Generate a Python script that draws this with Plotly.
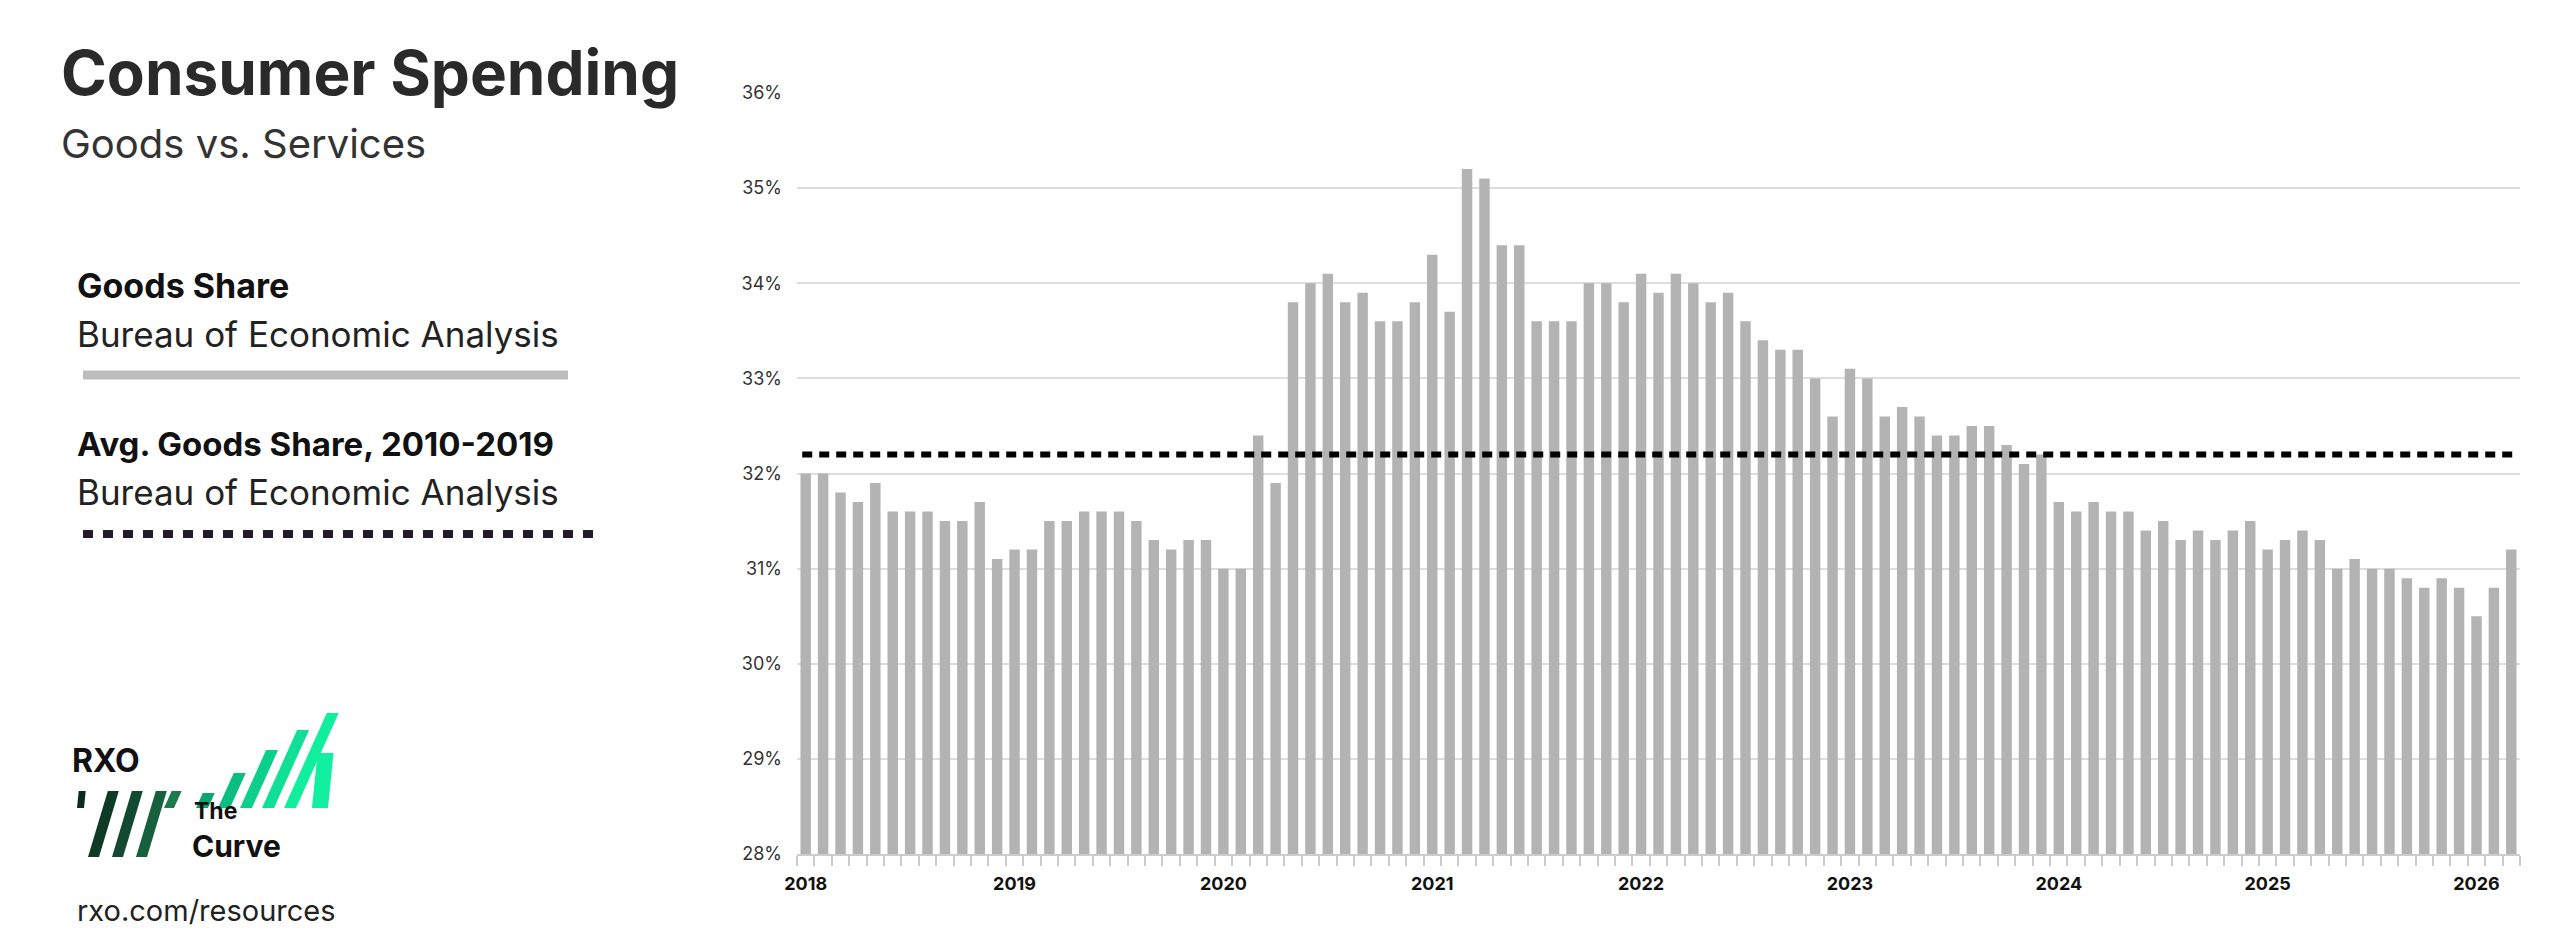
import plotly.graph_objects as go

# monthly goods share of consumer spending, Jan 2018 - Mar 2026 (%)
goods_share = [
    32.0, 32.0, 31.8, 31.7, 31.9, 31.6, 31.6, 31.6, 31.5, 31.5, 31.7, 31.1,  # 2018
    31.2, 31.2, 31.5, 31.5, 31.6, 31.6, 31.6, 31.5, 31.3, 31.2, 31.3, 31.3,  # 2019
    31.0, 31.0, 32.4, 31.9, 33.8, 34.0, 34.1, 33.8, 33.9, 33.6, 33.6, 33.8,  # 2020
    34.3, 33.7, 35.2, 35.1, 34.4, 34.4, 33.6, 33.6, 33.6, 34.0, 34.0, 33.8,  # 2021
    34.1, 33.9, 34.1, 34.0, 33.8, 33.9, 33.6, 33.4, 33.3, 33.3, 33.0, 32.6,  # 2022
    33.1, 33.0, 32.6, 32.7, 32.6, 32.4, 32.4, 32.5, 32.5, 32.3, 32.1, 32.2,  # 2023
    31.7, 31.6, 31.7, 31.6, 31.6, 31.4, 31.5, 31.3, 31.4, 31.3, 31.4, 31.5,  # 2024
    31.2, 31.3, 31.4, 31.3, 31.0, 31.1, 31.0, 31.0, 30.9, 30.8, 30.9, 30.8,  # 2025
    30.5, 30.8, 31.2,                                                        # 2026
]
avg_2010_2019 = 32.2
year_labels = ["2018", "2019", "2020", "2021", "2022", "2023", "2024", "2025", "2026"]
y_ticks = [28, 29, 30, 31, 32, 33, 34, 35, 36]

W, H = 2560, 944
L, R, T, B = 789, 2512, 85, 846

def px(x):
    return (x - L) / (R - L)

def py(y):
    return (B - y) / (B - T)

FONT = "Inter"
months = list(range(len(goods_share)))

fig = go.Figure()
fig.add_trace(go.Bar(x=months, y=goods_share, marker_color="#b3b3b3",
                     marker_line_width=0, width=0.6))
fig.add_trace(go.Scatter(x=[-0.2, len(goods_share) - 0.8], y=[avg_2010_2019] * 2,
                         mode="lines", line=dict(color="black", width=6, dash="10px,7px")))

fig.update_layout(
    width=W, height=H, showlegend=False,
    margin=dict(l=L, r=W - R, t=T, b=H - B),
    plot_bgcolor="white", paper_bgcolor="white",
    font=dict(family=FONT, color="#222"),
)
fig.update_xaxes(range=[-0.5, len(goods_share) - 0.5],
                 tickvals=[12 * i for i in range(len(year_labels))], ticktext=year_labels,
                 ticks="", showgrid=False, zeroline=False,
                 showline=True, linecolor="#cccccc", linewidth=2,
                 tickfont=dict(size=18, family=FONT, color="#111", weight="bold"),
                 ticklabelstandoff=12,
                 minor=dict(ticks="outside", tick0=-0.5, dtick=1, ticklen=10,
                            tickcolor="#cccccc", tickwidth=2, showgrid=False))
fig.update_yaxes(range=[28, 36], tickvals=y_ticks, ticktext=[f"{v}%" for v in y_ticks],
                 gridcolor="#dddddd", gridwidth=2, zeroline=False, ticks="",
                 tickfont=dict(size=18, family=FONT, color="#333"), ticklabelstandoff=14)

def text(x, y, s, size, bold=False, color="#222"):
    fig.add_annotation(xref="paper", yref="paper", x=px(x - 6), y=py(y), text=s,
                       showarrow=False, xanchor="left", yanchor="middle",
                       font=dict(size=size, family=FONT, color=color,
                                 weight="bold" if bold else "normal"))

text(57, 64, "Consumer Spending", 62, True, "#2a2a2a")
text(57, 135, "Goods vs. Services", 40, False, "#333")
text(73, 277, "Goods Share", 34, True, "#111")
text(73, 326, "Bureau of Economic Analysis", 35, False, "#222")
text(73, 436, "Avg. Goods Share, 2010-2019", 33, True, "#111")
text(73, 484, "Bureau of Economic Analysis", 35, False, "#222")
text(73, 903, "rxo.com/resources", 29, False, "#222")
text(68, 752, "RXO", 32, True, "#111")
text(190, 803, "The", 23, True, "#111")
text(188, 838, "Curve", 30, True, "#111")

# legend swatches
fig.add_shape(type="line", xref="paper", yref="paper", x0=px(75), x1=px(560),
              y0=py(367), y1=py(367), line=dict(color="#bdbdbd", width=9))
fig.add_shape(type="line", xref="paper", yref="paper", x0=px(75), x1=px(593),
              y0=py(526), y1=py(526), line=dict(color="#231a2a", width=8, dash="10px,10px"))

def stripe(x0, yb, yt, w, color, slant=0.45):
    s = (yb - yt) * slant
    path = (f"M {px(x0)},{py(yb)} L {px(x0 + w)},{py(yb)} "
            f"L {px(x0 + w + s)},{py(yt)} L {px(x0 + s)},{py(yt)} Z")
    fig.add_shape(type="path", xref="paper", yref="paper", path=path,
                  fillcolor=color, line_width=0)

# RXO dark stripes
stripe(69, 800, 783, 7, "#0b2b1d", 0.1)
for i, c in enumerate(["#0e3a26", "#114a30", "#17603e"]):
    stripe(80 + 24 * i, 849, 783, 11, c, 0.3)
stripe(156, 800, 783, 10, "#1d7a4c")

# The Curve green stripes
for i, (yt, c) in enumerate([(785, "#0aa56f"), (765, "#0bbd7e"), (742, "#0ccf8b"),
                             (722, "#0fe095"), (705, "#10ee9e")]):
    stripe(188 + 22 * i, 800, yt, 12, c)
stripe(304, 800, 745, 16, "#10f0a0", 0.1)

fig.write_html("out.html")
